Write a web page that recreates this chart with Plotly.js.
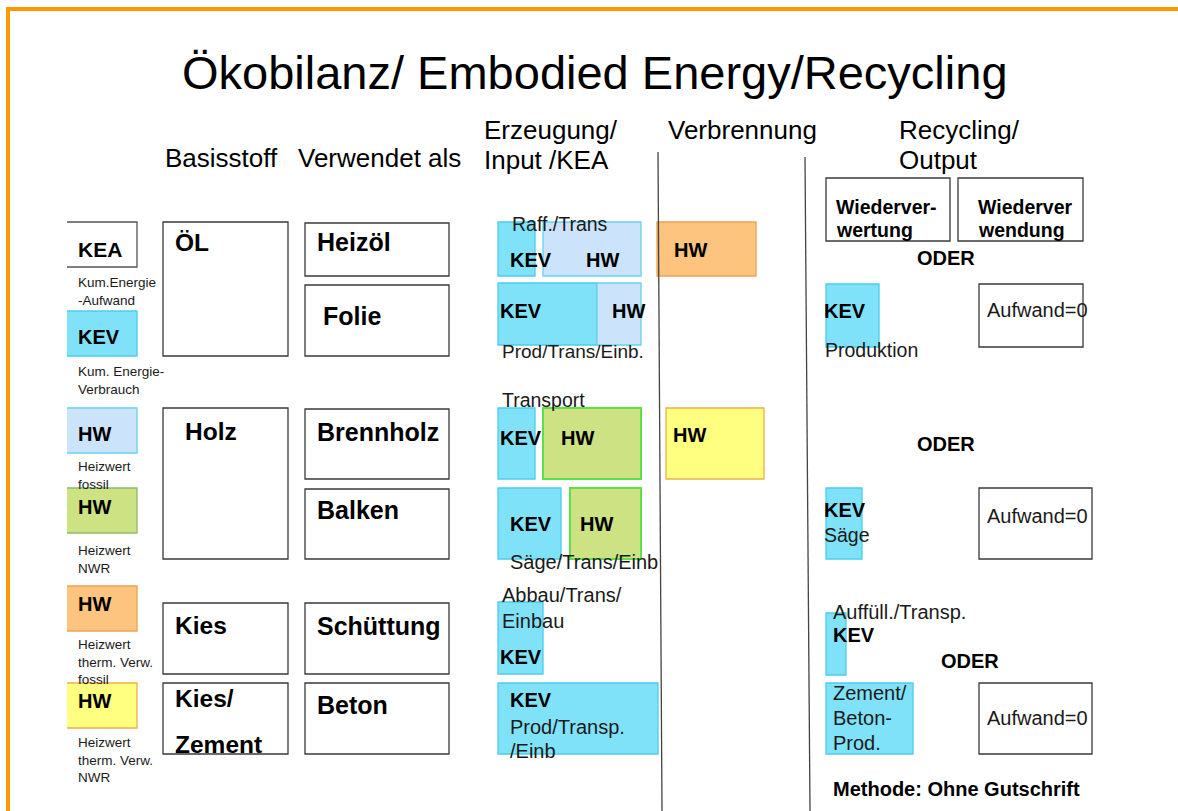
<!DOCTYPE html>
<html>
<head>
<meta charset="utf-8">
<script src="https://cdn.plot.ly/plotly-3.0.1.min.js"></script>
<style>html,body{margin:0;padding:0;background:#fff;}#chart{width:1178px;height:811px;}</style>
</head>
<body>
<div id="chart"></div>
<script>
// ---- Diagram content (labels) ----
const titleText = "Ökobilanz/ Embodied Energy/Recycling";
const headers = ["Basisstoff", "Verwendet als", "Erzeugung/", "Input /KEA", "Verbrennung", "Recycling/", "Output"];
const headerX = [165, 298, 484, 484, 668, 899, 899];
const headerY = [158, 158, 130, 160, 130, 130, 160];

// Box kinds: W = white, C = KEV cyan, B = HW light blue, G = HW green (NWR), O = HW orange, Y = HW yellow
const boxKind = ["W","C","B","G","O","Y",
                 "W","W","W","W",
                 "W","W","W","W","W","W",
                 "C","B","C","B","O",
                 "C","G","C","G","Y",
                 "C","C",
                 "W","W","C","W","C","W","C","C","W"];
const boxX0 = [66,66,66,66,66,66, 163,163,163,163, 305,305,305,305,305,305, 498,543,498,597,657, 498,543,498,570,666, 498,498, 826,958,826,979,826,979,826,826,979];
const boxX1 = [137,137,137,137,137,137, 288,288,288,288, 449,449,449,449,449,449, 535,641,597,641,756, 535,641,561,641,764, 543,658, 950,1083,879,1083,862,1092,846,913,1092];
const boxY0 = [222,311,408,488,586,683, 222,408,603,683, 223,285,409,489,603,683, 222,222,283,283,222, 408,408,488,488,408, 602,683, 178,178,284,284,488,488,613,683,683];
const boxY1 = [267,356,453,533,631,728, 356,559,674,754, 276,356,479,559,674,754, 276,276,345,345,276, 479,479,559,559,479, 674,754, 241,241,347,347,559,559,675,754,754];
const boxNoLeft = [true,true,true,true,true,true]; // legend boxes are cut at the left

// Bold labels
const boldText = ["KEA","KEV","HW","HW","HW","HW",
                  "ÖL","Holz","Kies","Kies/","Zement",
                  "Heizöl","Folie","Brennholz","Balken","Schüttung","Beton",
                  "KEV","HW","KEV","HW","HW",
                  "KEV","HW","KEV","HW","HW",
                  "KEV","KEV",
                  "Wiederver-","wertung","Wiederver","wendung","ODER",
                  "KEV","KEV","ODER","KEV","ODER","Methode: Ohne Gutschrift"];
const boldX = [78,78,78,78,78,78,
               175,185,175,175,175,
               317,323,317,317,317,317,
               510,586,500,612,674,
               500,561,510,580,673,
               500,510,
               836,836,978,978,917,
               824,824,917,833,941,833];
const boldY = [249,337,434,507,604,701,
               242,431,625,698,744,
               242,316,432,510,626,705,
               260,260,311,311,250,
               438,438,524,524,435,
               657,700,
               207,230,207,230,258,
               311,510,444,635,661,789];
const boldSize = [21,20,20,20,20,20,
                  24.5,24.5,24.5,24.5,24.5,
                  25,25,25,25,25,25,
                  20,20,20,20,20,
                  20,20,20,20,20,
                  20,20,
                  19.5,19.5,19.5,19.5,20,
                  20,20,20,20,20,20];

// Regular labels
const plainText = ["Kum.Energie<br>-Aufwand","Kum. Energie-<br>Verbrauch","Heizwert<br>fossil","Heizwert<br>NWR",
                   "Heizwert<br>therm. Verw.<br>fossil","Heizwert<br>therm. Verw.<br>NWR",
                   "Raff./Trans","Prod/Trans/Einb.","Transport","Säge/Trans/Einb","Abbau/Trans/","Einbau",
                   "Prod/Transp.","/Einb",
                   "Produktion","Aufwand=0","Säge","Aufwand=0","Auffüll./Transp.","Zement/","Beton-","Prod.","Aufwand=0"];
const plainX = [78,78,78,78,78,78,
                512,502,502,510,502,502,
                510,510,
                825,987,824,987,833,833,833,833,987];
const plainY = [291,380,475,559,662,760,
                224,351,400,562,595,621,
                727,751,
                350,310,535,516,612,693,718,743,718];
const plainSize = [13.5,13.5,13.5,13.5,13.5,13.5,
                   19.5,19,19.5,20,20,20,
                   20,20,
                   19.5,20,19.5,20,20,20,20,20,20];

// Column dividers
const dividerX0 = [658, 805];
const dividerX1 = [662, 810];
const dividerY0 = [152, 157];
const dividerY1 = [811, 811];

// ---- Styles ----
const fillOf = {W:"#ffffff", C:"#80e2f9", B:"#cce4fb", G:"#cde283", O:"#fcc47e", Y:"#ffff80"};
const lineOf = {W:"#3a3a3a", C:"#4ccdec", B:"#66d2f0", G:"#5ee04a", O:"#eba252", Y:"#e9b04a"};
const FONT = "Liberation Sans, Arial, sans-serif";

const shapes = [];
// orange frame
shapes.push({type:"rect", xref:"x", yref:"y", x0:6, x1:1178, y0:7, y1:11, fillcolor:"#ff9900", line:{width:0}, layer:"below"});
shapes.push({type:"rect", xref:"x", yref:"y", x0:6, x1:10, y0:7, y1:811, fillcolor:"#ff9900", line:{width:0}, layer:"below"});

for (let i = 0; i < boxKind.length; i++) {
  const k = boxKind[i];
  let lc = lineOf[k];
  if (i === 3) lc = "#8db870";
  if (i === 0) lc = "#555555";
  shapes.push({type:"rect", xref:"x", yref:"y", x0:boxX0[i], x1:boxX1[i], y0:boxY0[i], y1:boxY1[i],
               fillcolor:fillOf[k], line:{color:lc, width: k === "G" && i > 5 ? 2 : 1.3}, layer:"below"});
  if (boxNoLeft[i]) {
    shapes.push({type:"line", xref:"x", yref:"y", x0:boxX0[i], x1:boxX0[i], y0:boxY0[i]-1, y1:boxY1[i]+1,
                 line:{color:"#ffffff", width:2}, layer:"below"});
  }
}
for (let i = 0; i < dividerX0.length; i++) {
  shapes.push({type:"line", xref:"x", yref:"y", x0:dividerX0[i], x1:dividerX1[i], y0:dividerY0[i], y1:dividerY1[i],
               line:{color:"#444444", width:1.3}});
}

const annotations = [];
annotations.push({text:titleText, x:595, y:72, xref:"x", yref:"y", xanchor:"center", yanchor:"middle",
                  showarrow:false, font:{family:FONT, size:47, color:"#000"}});
for (let i = 0; i < headers.length; i++) {
  annotations.push({text:headers[i], x:headerX[i], y:headerY[i], xref:"x", yref:"y", xanchor:"left", yanchor:"middle",
                    xshift:-2, showarrow:false, font:{family:FONT, size:26, color:"#000"}});
}
for (let i = 0; i < boldText.length; i++) {
  annotations.push({text:"<b>"+boldText[i]+"</b>", x:boldX[i], y:boldY[i], xref:"x", yref:"y", xanchor:"left", yanchor:"middle",
                    xshift:-2, showarrow:false, font:{family:FONT, size:boldSize[i], color:"#000"}});
}
for (let i = 0; i < plainText.length; i++) {
  annotations.push({text:plainText[i], x:plainX[i], y:plainY[i], xref:"x", yref:"y", xanchor:"left", yanchor:"middle",
                    xshift:-2, align:"left", showarrow:false, font:{family:FONT, size:plainSize[i], color:"#1a1a1a"}});
}

const layout = {
  width:1178, height:811,
  margin:{l:0, r:0, t:0, b:0},
  paper_bgcolor:"#ffffff", plot_bgcolor:"#ffffff",
  xaxis:{range:[0,1178], visible:false, fixedrange:true},
  yaxis:{range:[811,0], visible:false, fixedrange:true},
  showlegend:false,
  shapes:shapes,
  annotations:annotations
};
Plotly.newPlot("chart", [{x:[], y:[], type:"scatter", mode:"markers"}], layout, {staticPlot:true, displayModeBar:false});
</script>
</body>
</html>
